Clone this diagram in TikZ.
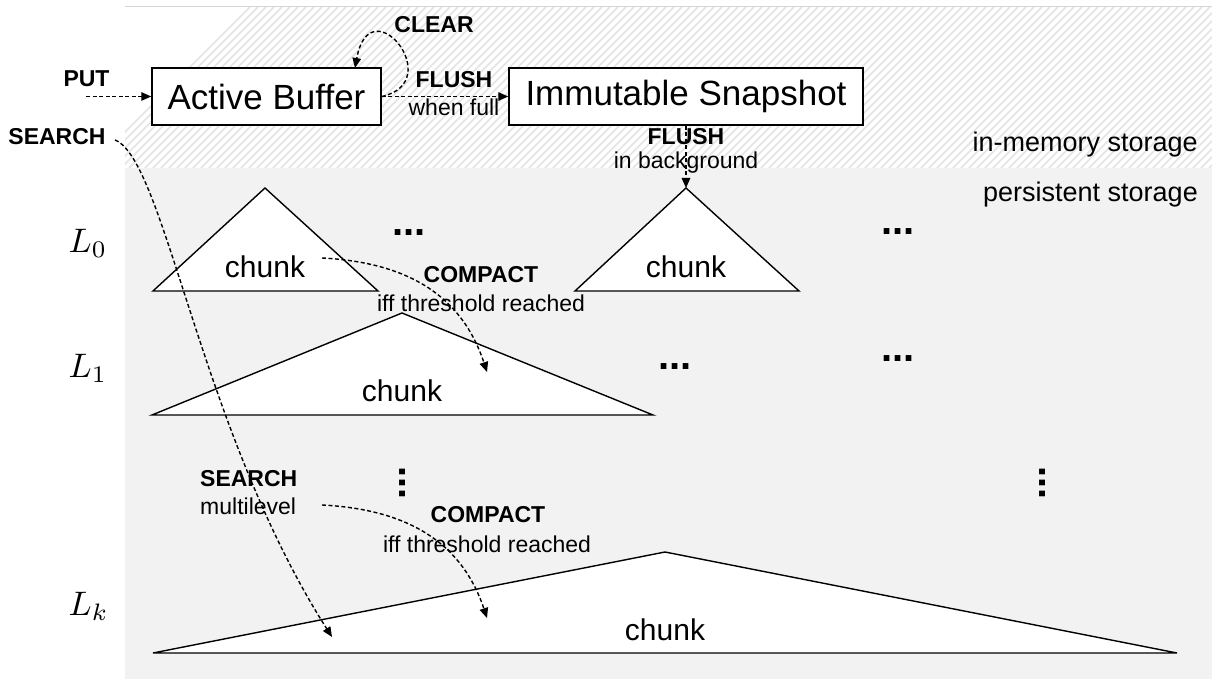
\documentclass[tikz,border=0pt]{standalone}
\usepackage{fontspec}
\setmainfont{Liberation Sans}
\usetikzlibrary{arrows.meta}
\definecolor{bggray}{RGB}{242,242,242}
\definecolor{hatchgray}{RGB}{228,228,228}
\definecolor{topline}{RGB}{212,212,212}
\begin{document}
\begin{tikzpicture}[x=1pt,y=-1pt,
  box/.style={draw, line width=1.5pt, fill=white, inner sep=0pt, font=\fontsize{35}{42}\selectfont},
  lbl/.style={font=\fontsize{23}{27}\selectfont\bfseries, inner sep=0pt, anchor=base},
  sub/.style={font=\fontsize{23}{27}\selectfont, inner sep=0pt, anchor=base},
  store/.style={font=\fontsize{27}{32}\selectfont, inner sep=0pt, anchor=base east},
  chunklbl/.style={font=\fontsize{30}{36}\selectfont, inner sep=0pt},
  lvl/.style={inner sep=0pt, anchor=base west, scale=3.4},
  tri/.style={draw, line width=1.4pt, fill=white, line join=miter},
  dotsl/.style={font=\fontsize{40}{48}\selectfont\bfseries, inner sep=0pt},
  flow/.style={draw, line width=1.4pt, dash pattern=on 4pt off 2.5pt, -{Triangle[length=10pt,width=8.5pt]}},
]
\useasboundingbox (0,0) rectangle (1212,679);
\fill[white] (0,0) rectangle (1212,679);
% persistent storage area
\fill[bggray] (125,168) rectangle (1212,679);
% in-memory hatched area
\begin{scope}
  \clip (125,7) rectangle (1212,168);
  \foreach \i in {0,...,158} {
    \draw[hatchgray, line width=1.5pt] ({89+8*\i},168) -- ({250+8*\i},7);
  }
\end{scope}
\draw[topline, line width=1pt] (125,7) -- (1212,7);

% triangles (chunks)
\coordinate (t0a) at (265,188);
\coordinate (t0b) at (686,188);
\coordinate (t1) at (402,313);
\coordinate (tk) at (665,552);
\draw[tri] (t0a) -- (378,291) -- (153,291) -- cycle;
\draw[tri] (t0b) -- (799,291) -- (575,291) -- cycle;
\draw[tri] (t1) -- (653,415) -- (152,415) -- cycle;
\draw[tri] (tk) -- (1177,653) -- (153,653) -- cycle;
\node[chunklbl] (ch0a) at (265,267) {chunk};
\node[chunklbl] (ch0b) at (686,267) {chunk};
\node[chunklbl] (ch1) at (402,391) {chunk};
\node[chunklbl] (chk) at (665,630) {chunk};

% boxes
\node[box, minimum width=229pt, minimum height=57pt] (buf) at (266.5,96.5) {Active Buffer};
\node[box, minimum width=354pt, minimum height=57pt] (snap) at (686,96.5) {Immutable Snapshot};

% labels
\node[lbl] (put) at (86.5,87) {PUT};
\node[lbl] (search) at (57,145) {SEARCH};
\node[lbl] (clear) at (434,33) {CLEAR};
\node[lbl] (flush1) at (454,88) {FLUSH};
\node[sub] (whenfull) at (454,116) {when full};
\node[lbl] (flush2) at (686,145) {FLUSH};
\node[sub] (inbg) at (686,169) {in background};
\node[store] (mem) at (1198,152) {in-memory storage};
\node[store] (pers) at (1198,202) {persistent storage};
\node[lvl] (l0) at (68,252) {$L_0$};
\node[lvl] (l1) at (68,377) {$L_1$};
\node[lvl] (lk) at (68,615) {$L_k$};
\node[lbl] (compact1) at (481,282) {COMPACT};
\node[sub] (iff1) at (481,311) {iff threshold reached};
\node[lbl, anchor=base west] (search2) at (200,486) {SEARCH};
\node[sub, anchor=base west] (multi) at (200,514) {multilevel};
\node[lbl] (compact2) at (488,522) {COMPACT};
\node[sub] (iff2) at (487,552) {iff threshold reached};

% ellipses
\node[dotsl] (d1) at (409,233) {...};
\node[dotsl] (d2) at (898,232) {...};
\node[dotsl] (d3) at (675,367) {...};
\node[dotsl] (d4) at (898,359) {...};
\node[dotsl, rotate=90] (v1) at (403,483) {...};
\node[dotsl, rotate=90] (v2) at (1043,483) {...};

% connector end points
\coordinate (putStart) at (86,96.5);
\coordinate (clearEnd) at (355,68);
\coordinate (searchStart) at (115,140);
\coordinate (searchEnd) at (332,637);
\coordinate (c1s) at (322,258);
\coordinate (c1e) at (487,372);
\coordinate (c2s) at (322,505);
\coordinate (c2e) at (487,618);

% connectors
\draw[flow] (putStart) -- (buf.west);
\draw[flow] (buf.east) -- (snap.west);
\draw[flow] (buf.east) .. controls (448,82) and (370,-15) .. (clearEnd);
\draw[flow] (snap.south) -- (t0b);
\draw[flow] (searchStart) .. controls (165,160) and (200,430) .. (searchEnd);
\draw[flow] (c1s) .. controls (400,262) and (460,290) .. (c1e);
\draw[flow] (c2s) .. controls (400,509) and (460,537) .. (c2e);
\end{tikzpicture}
\end{document}
